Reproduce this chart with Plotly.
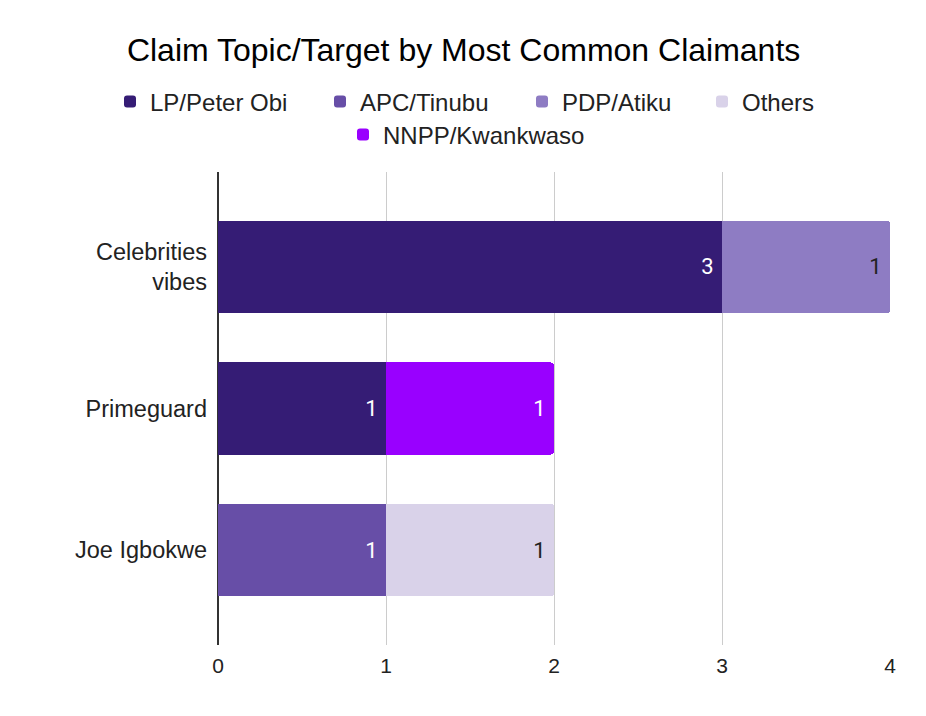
import plotly.graph_objects as go

categories = ["Celebrities<br>vibes", "Primeguard", "Joe Igbokwe"]
series_names = ["LP/Peter Obi", "APC/Tinubu", "PDP/Atiku", "Others", "NNPP/Kwankwaso"]
lp_obi = [3, 1, None]
apc_tinubu = [None, None, 1]
pdp_atiku = [1, None, None]
others = [None, None, 1]
nnpp_kwankwaso = [None, 1, None]
x_ticks = [0, 1, 2, 3, 4]

colors = ["#351C75", "#674EA7", "#8E7CC3", "#D9D2E9", "#9900FF"]
text_colors = ["#FFFFFF", "#FFFFFF", "#222222", "#222222", "#FFFFFF"]
all_values = [lp_obi, apc_tinubu, pdp_atiku, others, nnpp_kwankwaso]

ARIAL = "Liberation Sans, Arial, sans-serif"
W, H = 926, 716

# legend placement (pixels from left / top of figure)
legend_ids = ["legend", "legend2", "legend3", "legend4", "legend5"]
legend_left_px = [102, 312, 514, 694, 335]
legend_mid_px = [94, 94, 94, 94, 127]

fig = go.Figure()
for name, vals, c, tc, lg in zip(series_names, all_values, colors, text_colors, legend_ids):
    fig.add_trace(go.Bar(
        y=categories, x=vals, name=name, orientation="h",
        marker=dict(color=c, line=dict(width=0)),
        text=[("" if v is None else str(v) + "\u00a0") for v in vals],
        textposition="inside", insidetextanchor="end",
        textfont=dict(color=tc, size=22, family="Roboto"),
        hoverinfo="x+name", legend=lg, showlegend=True,
    ))

legend_common = dict(orientation="h", xref="container", yref="container",
                     yanchor="middle", xanchor="left",
                     font=dict(family=ARIAL, size=24, color="#222222"),
                     traceorder="normal", itemsizing="constant", bgcolor="rgba(0,0,0,0)")

legend_layout = {}
for lg, lx, ly in zip(legend_ids, legend_left_px, legend_mid_px):
    legend_layout[lg] = dict(x=lx / W, y=1 - ly / H, **legend_common)

fig.update_layout(
    width=W, height=H, showlegend=True,
    barmode="stack", bargap=0.35, barcornerradius=3,
    paper_bgcolor="white", plot_bgcolor="white",
    margin=dict(l=210, r=44, t=164, b=79, autoexpand=False),
    title=dict(text="Claim Topic/Target by Most Common Claimants",
               x=0.492, xanchor="center", xref="container", y=1 - 42 / H, yanchor="middle",
               font=dict(family=ARIAL, size=32, color="#000000")),
    font=dict(family=ARIAL, size=20, color="#222222"),
    **legend_layout,
)
fig.update_xaxes(range=[0, 4], tickvals=x_ticks, showgrid=True, gridcolor="#CCCCCC",
                 gridwidth=1, zeroline=True, zerolinecolor="#333333", zerolinewidth=1.5,
                 showline=False, ticks="", automargin=False, ticklabelstandoff=6,
                 tickfont=dict(size=21, family=ARIAL, color="#222222"))
fig.update_yaxes(range=[2.67, -0.67], showgrid=False, showline=False, ticks="",
                 automargin=False, ticklabelstandoff=10,
                 tickfont=dict(size=23.5, family=ARIAL, color="#222222"))

fig.write_html("out.html")
